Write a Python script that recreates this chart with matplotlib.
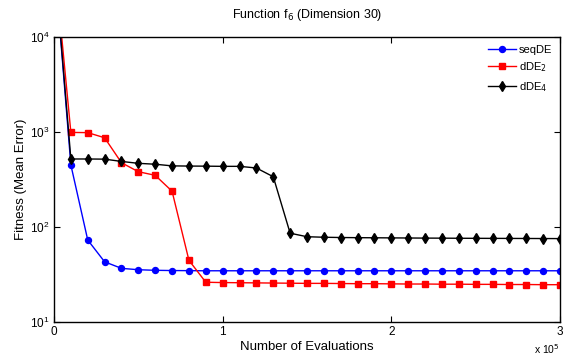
import numpy as np
import matplotlib.pyplot as plt

plt.rcParams['font.family'] = ['Liberation Sans', 'DejaVu Sans']

# evaluations, every 1e4 from 0 to 3e5
evals = np.arange(0, 300001, 10000)

seqde = [7e4, 450, 73, 43, 36.7, 35.5, 35, 34.8, 34.7, 34.6,
         34.6, 34.6, 34.6, 34.6, 34.6, 34.6, 34.6, 34.6, 34.6, 34.6,
         34.6, 34.6, 34.6, 34.6, 34.6, 34.6, 34.6, 34.6, 34.6, 34.6, 34.6]
dde2 = [7e4, 990, 985, 870, 475, 382, 350, 238, 44.6, 26.2,
        26.0, 25.9, 25.8, 25.7, 25.6, 25.5, 25.5, 25.4, 25.3, 25.3,
        25.2, 25.1, 25.1, 25.0, 25.0, 24.9, 24.9, 24.8, 24.8, 24.7, 24.7]
dde4 = [7e4, 520, 520, 518, 490, 468, 458, 440, 438, 437,
        435, 435, 418, 338, 86, 79, 78, 77.5, 77.2, 77.0,
        76.8, 76.6, 76.4, 76.3, 76.1, 76.0, 75.9, 75.8, 75.7, 75.6, 75.5]

fig = plt.figure(figsize=(5.69, 3.58), dpi=100)
ax = fig.add_axes([0.0949, 0.1006, 0.8893, 0.796])

ax.plot(evals, seqde, 'b-o', markersize=4.3, linewidth=1, label='seqDE')
ax.plot(evals, dde2, 'r-s', markersize=4, linewidth=1, label='dDE$_2$')
ax.plot(evals, dde4, 'k-d', markersize=5, linewidth=1, label='dDE$_4$')

ax.set_yscale('log')
ax.set_xlim(0, 3e5)
ax.set_ylim(10, 1e4)
ax.set_xticks([0, 1e5, 2e5, 3e5])
ax.set_xticklabels(['0', '1', '2', '3'])
ax.set_yticks([10, 100, 1000, 10000])
ax.minorticks_off()
ax.tick_params(direction='in', top=True, right=True, labelsize=8.5, length=4, width=0.8, pad=3)
for s in ax.spines.values():
    s.set_linewidth(1)

ax.set_title('Function f$_6$ (Dimension 30)', fontsize=9, pad=14)
ax.set_xlabel('Number of Evaluations', fontsize=9.5, labelpad=2)
ax.set_ylabel('Fitness (Mean Error)', fontsize=9.5, labelpad=2)
ax.text(1.0, -0.07, 'x 10$^5$', transform=ax.transAxes, fontsize=7.5, ha='right', va='top')

ax.legend(loc='upper right', fontsize=8, frameon=False, handlelength=2.5,
          borderaxespad=0.3, labelspacing=0.5, handletextpad=0.3)

fig.savefig('out.png', dpi=100)
